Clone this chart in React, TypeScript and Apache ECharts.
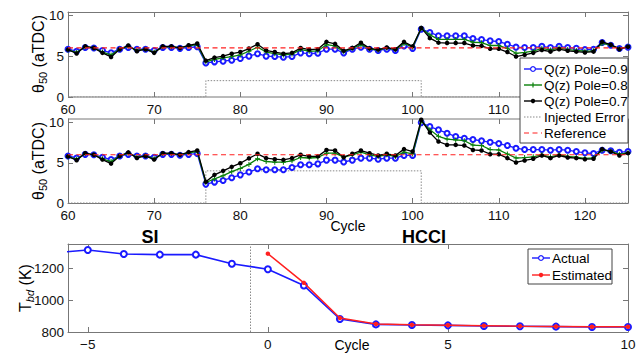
import React, { useEffect, useRef } from 'react';
import * as echarts from 'echarts';

// ---------- data ----------
const CYCLES = [60, 61, 62, 63, 64, 65, 66, 67, 68, 69, 70, 71, 72, 73, 74, 75, 76, 77, 78, 79, 80, 81, 82, 83, 84, 85, 86, 87, 88, 89, 90, 91, 92, 93, 94, 95, 96, 97, 98, 99, 100, 101, 102, 103, 104, 105, 106, 107, 108, 109, 110, 111, 112, 113, 114, 115, 116, 117, 118, 119, 120, 121, 122, 123, 124, 125];

// top panel (injected error = 2)
const TOP_POLE09 = [5.85, 5.6, 6.05, 6.0, 5.7, 5.4, 5.85, 6.05, 5.85, 5.85, 5.7, 6.05, 6.05, 5.95, 6.05, 6.15,
  4.17, 4.3, 4.38, 4.5, 4.7, 5.0,
  5.3, 5.0, 4.95, 4.87, 4.95, 5.4, 5.3, 5.35, 5.85, 5.85, 5.4, 5.85, 6.1, 5.85, 5.7, 5.85, 5.7, 6.25, 5.95,
  8.3, 7.9, 7.48, 7.48, 7.48, 7.48, 7.15, 7.03, 6.87, 6.79, 6.46, 6.1, 6.05, 6.05, 6.2, 6.05, 6.2, 6.05, 5.95, 5.8, 5.85, 6.66, 6.34, 5.93, 6.1];
const TOP_POLE08 = [5.75, 5.45, 6.15, 6.0, 5.5, 5.15, 5.85, 6.2, 5.7, 5.85, 5.5, 6.15, 6.15, 6.0, 6.25, 6.4,
  4.3, 4.6, 4.8, 4.95, 5.15, 5.6,
  6.1, 5.5, 5.3, 5.15, 5.25, 5.8, 5.6, 5.65, 6.4, 6.25, 5.55, 5.95, 6.4, 5.9, 5.75, 6.0, 5.8, 6.55, 6.1,
  8.4, 7.6, 7.05, 7.05, 7.05, 7.05, 6.7, 6.65, 6.3, 6.3, 5.95, 5.35, 5.45, 5.6, 5.95, 5.75, 6.0, 5.8, 5.7, 5.6, 5.65, 6.55, 6.35, 5.9, 6.15];
const TOP_POLE07 = [5.8, 5.32, 6.2, 6.0, 5.4, 4.9, 5.85, 6.3, 5.6, 5.85, 5.4, 6.2, 6.2, 6.0, 6.33, 6.54,
  4.45, 4.82, 5.0, 5.3, 5.5, 5.93,
  6.45, 5.7, 5.5, 5.3, 5.4, 6.0, 5.8, 5.85, 6.75, 6.5, 5.65, 6.0, 6.65, 5.95, 5.8, 6.05, 5.85, 6.75, 6.2,
  8.45, 7.2, 6.65, 6.6, 6.6, 6.6, 6.3, 6.25, 5.9, 5.9, 5.5, 4.95, 5.15, 5.4, 5.75, 5.55, 5.85, 5.65, 5.55, 5.45, 5.55, 6.75, 6.4, 5.85, 6.15];

// middle panel (injected error = 4)
const MID_POLE09 = [5.85, 5.6, 6.05, 6.0, 5.7, 5.4, 5.85, 6.05, 5.85, 5.85, 5.7, 6.05, 6.05, 5.95, 6.05, 6.15,
  2.35, 2.6, 2.8, 3.15, 3.5, 3.85,
  4.26, 4.13, 4.13, 4.13, 4.42, 4.75, 4.75, 4.87, 5.33, 5.33, 5.1, 5.33, 5.58, 5.58, 5.45, 5.58, 5.58, 5.92, 5.92,
  10.0, 9.5, 9.1, 8.68, 8.27, 8.06, 7.9, 7.73, 7.56, 7.4, 7.15, 6.82, 6.65, 6.65, 6.65, 6.57, 6.65, 6.57, 6.4, 6.24, 6.16, 6.57, 6.49, 6.32, 6.4];
const MID_POLE08 = [5.75, 5.45, 6.15, 6.0, 5.5, 5.15, 5.85, 6.2, 5.7, 5.85, 5.5, 6.15, 6.15, 6.0, 6.25, 6.4,
  2.55, 3.0, 3.4, 3.9, 4.3, 4.8,
  5.5, 5.16, 5.08, 5.08, 5.25, 5.66, 5.6, 5.66, 6.2, 6.2, 5.7, 5.99, 6.33, 5.99, 5.79, 5.99, 5.79, 6.33, 6.1,
  10.2, 9.1, 8.3, 7.95, 7.85, 7.75, 7.2, 7.15, 6.65, 6.6, 6.1, 5.6, 5.65, 5.75, 6.0, 5.75, 6.0, 5.8, 5.7, 5.55, 5.6, 6.6, 6.45, 6.05, 6.25];
const MID_POLE07 = [5.8, 5.32, 6.2, 6.0, 5.4, 4.9, 5.85, 6.3, 5.6, 5.85, 5.4, 6.2, 6.2, 6.0, 6.33, 6.54,
  2.65, 3.5, 4.0, 4.5, 4.95, 5.55,
  6.12, 5.58, 5.45, 5.37, 5.58, 6.0, 5.8, 5.8, 6.6, 6.53, 5.7, 6.12, 6.53, 6.2, 5.91, 6.12, 5.91, 6.7, 6.4,
  10.35, 8.76, 7.65, 7.23, 7.23, 7.15, 6.6, 6.53, 6.07, 6.07, 5.58, 5.04, 5.29, 5.5, 5.91, 5.58, 5.91, 5.66, 5.58, 5.45, 5.5, 6.7, 6.4, 5.91, 6.2];

const REFERENCE = 6;
const ERROR_ON = 76;
const ERROR_OFF = 101;
const TOP_ERROR = 2;
const MID_ERROR = 4;

// bottom panel
const TBD_CYCLES = [-6, -5, -4, -3, -2, -1, 0, 1, 2, 3, 4, 5, 6, 7, 8, 9, 10];
const TBD_ACTUAL = [1298, 1317, 1292, 1288, 1288, 1230, 1196, 1093, 882, 848, 844, 842, 838, 836, 834, 832, 832];
const EST_CYCLES = [0, 1, 2, 3, 4, 5, 6, 7, 8, 9, 10];
const TBD_ESTIMATED = [1294, 1110, 888, 850, 845, 843, 840, 837, 835, 833, 833];
const MODE_SWITCH = -0.5;

const X_TICKS_TOP = [60, 70, 80, 90, 100, 110, 120];
const X_TICKS_UNDER_LEGEND = [60, 70, 80, 90, 100, 110]; // 120 is hidden under the legend
const Y_TICKS_TOP = [0, 5, 10];
const X_TICKS_BOT = [-5, 0, 5, 10];
const Y_TICKS_BOT = [800, 1000, 1200];

const LEGEND_TOP = ['Q(z) Pole=0.9', 'Q(z) Pole=0.8', 'Q(z) Pole=0.7', 'Injected Error', 'Reference'];
const LEGEND_BOT = ['Actual', 'Estimated'];

// ---------- styling / layout ----------
const FONT = 'Liberation Sans, Arial, Helvetica, sans-serif';
const AXC = '#777777';
const BLUE = '#1a1aff';
const GREEN = '#0a800a';
const BLACK = '#000000';
const RED = '#ff2020';
const GREY = '#8a8a8a';
const PLUS = 'path://M0,4H10V6H0Z M4,0H6V10H4Z';

const GRID_LEFT = 68;
const GRID_RIGHT = 11;
const G0 = { top: 12, height: 85 };
const G1 = { top: 119, height: 84 };
const G2 = { top: 244, height: 88 };
const LEG1 = { x: 520, y: 58, w: 108, h: 85 };
const LEG2 = { x: 528, y: 249, w: 84, h: 35 };

const pairs = (xs: number[], ys: number[]) => xs.map((x, i) => [x, ys[i]]);
const fmt = (v: number) => (v < 0 ? '\u2212' + Math.abs(v) : String(v));

function xAxis(gridIndex: number, min: number, max: number, ticks: number[], labelVals: number[], pos: 'bottom' | 'top', labels: boolean, line = true) {
  return {
    type: 'value', gridIndex, min, max, position: pos,
    axisLine: { show: line, onZero: false, lineStyle: { color: AXC, width: 1 } },
    axisTick: { show: true, inside: true, length: 5, customValues: ticks, lineStyle: { color: AXC } },
    axisLabel: { show: labels, customValues: labelVals, color: '#111', fontSize: 13.5, fontFamily: FONT, margin: 5, formatter: fmt },
    splitLine: { show: false },
  };
}
function yAxis(gridIndex: number, min: number, max: number, ticks: number[], pos: 'left' | 'right', labels: boolean) {
  return {
    type: 'value', gridIndex, min, max, position: pos,
    axisLine: { show: true, onZero: false, lineStyle: { color: AXC, width: 1 } },
    axisTick: { show: true, inside: true, length: 5, customValues: ticks, lineStyle: { color: AXC } },
    axisLabel: { show: labels, customValues: ticks, color: '#111', fontSize: 13.5, fontFamily: FONT, margin: 4, formatter: fmt },
    splitLine: { show: false },
  };
}

function panelSeries(axis: number, p09: number[], p08: number[], p07: number[], err: number) {
  const first = CYCLES[0];
  const last = CYCLES[CYCLES.length - 1];
  const errPts = [[first, 0], [ERROR_ON, 0], [ERROR_ON, err], [ERROR_OFF, err], [ERROR_OFF, 0], [last, 0]];
  return [
    {
      name: LEGEND_TOP[3], type: 'line', xAxisIndex: axis, yAxisIndex: axis, data: errPts,
      symbol: 'none', lineStyle: { color: GREY, width: 1, type: [1.5, 1.5] }, z: 2,
    },
    {
      name: LEGEND_TOP[0], type: 'line', xAxisIndex: axis, yAxisIndex: axis, data: pairs(CYCLES, p09),
      symbol: 'emptyCircle', symbolSize: 5, lineStyle: { color: BLUE, width: 1.3 },
      itemStyle: { color: BLUE, borderColor: BLUE, borderWidth: 1.2 }, z: 3,
    },
    {
      name: LEGEND_TOP[1], type: 'line', xAxisIndex: axis, yAxisIndex: axis, data: pairs(CYCLES, p08),
      symbol: PLUS, symbolSize: 5, lineStyle: { color: GREEN, width: 1.3 }, itemStyle: { color: GREEN }, z: 4,
    },
    {
      name: LEGEND_TOP[2], type: 'line', xAxisIndex: axis, yAxisIndex: axis, data: pairs(CYCLES, p07),
      symbol: 'circle', symbolSize: 4.5, lineStyle: { color: BLACK, width: 1.3 }, itemStyle: { color: BLACK }, z: 5,
    },
    {
      name: LEGEND_TOP[4], type: 'line', xAxisIndex: axis, yAxisIndex: axis,
      data: [[first, REFERENCE], [last, REFERENCE]],
      symbol: 'none', lineStyle: { color: RED, width: 1.2, type: [5, 3.5] }, z: 6,
    },
  ];
}

// legend drawn as graphic elements
type Entry = { name: string; color: string; dash?: number[]; mark?: 'open' | 'dot' | 'plus' };
function legendBox(b: { x: number; y: number; w: number; h: number }, rowY: number[], entries: Entry[]) {
  const { x, y, w, h } = b;
  const Z = 60;
  const children: any[] = [
    { type: 'rect', z: Z, shape: { x, y, width: w, height: h }, style: { fill: '#ffffff', stroke: '#444', lineWidth: 1 } },
  ];
  entries.forEach((e, i) => {
    const cy = rowY[i];
    const x1 = x + 4, x2 = x + 22, cx = (x1 + x2) / 2;
    children.push({
      type: 'line', z: Z + 1, shape: { x1, y1: cy, x2, y2: cy },
      style: { stroke: e.color, lineWidth: e.dash ? 1.2 : 1.4, lineDash: e.dash || null },
    });
    if (e.mark === 'open') children.push({ type: 'circle', z: Z + 2, shape: { cx, cy, r: 2.4 }, style: { fill: '#fff', stroke: e.color, lineWidth: 1.2 } });
    if (e.mark === 'dot') children.push({ type: 'circle', z: Z + 2, shape: { cx, cy, r: 2.2 }, style: { fill: e.color } });
    if (e.mark === 'plus') children.push({ type: 'line', z: Z + 2, shape: { x1: cx, y1: cy - 2.5, x2: cx, y2: cy + 2.5 }, style: { stroke: e.color, lineWidth: 1.2 } });
    children.push({
      type: 'text', z: Z + 2, x: x2 + 2, y: cy,
      style: { text: e.name, fill: '#000', font: `13.5px ${FONT}`, align: 'left', verticalAlign: 'middle' },
    });
  });
  return { type: 'group', z: Z, children };
}

function buildOption() {
  const grids = [
    { left: GRID_LEFT, right: GRID_RIGHT, ...G0 },
    { left: GRID_LEFT, right: GRID_RIGHT, ...G1 },
    { left: GRID_LEFT, right: GRID_RIGHT, ...G2 },
  ];
  const label = (x: number, y: number, text: string, extra: any = {}) => ({
    type: 'text', x, y, z: 100,
    style: { text, fill: '#000', font: `14px ${FONT}`, align: 'center', verticalAlign: 'middle', ...extra },
  });
  const yTitle = (x: number, y: number, main: string, sub: string, rest: string, italicSub = false) => ({
    type: 'text', x, y, rotation: Math.PI / 2, z: 100,
    style: {
      text: `{a|${main}}{b|${sub}}{a|${rest}}`,
      align: 'center', verticalAlign: 'middle',
      rich: {
        a: { fontSize: 16, fontFamily: FONT, fill: '#000', lineHeight: 22, verticalAlign: 'middle' },
        b: { fontSize: 11, fontFamily: FONT, fill: '#000', lineHeight: 22, verticalAlign: 'middle', padding: [9, 0, 0, 0], fontStyle: italicSub ? 'italic' : 'normal' },
      },
    },
  });
  // axis lines that run under the legend box are drawn only up to the box
  const frameLine = (yy: number) => ({
    type: 'line', z: 1, shape: { x1: GRID_LEFT, y1: yy, x2: LEG1.x, y2: yy },
    style: { stroke: AXC, lineWidth: 1 },
  });

  return {
    animation: false,
    backgroundColor: '#fff',
    grid: grids,
    xAxis: [
      xAxis(0, 60, 125, X_TICKS_UNDER_LEGEND, X_TICKS_UNDER_LEGEND, 'bottom', true, false),
      xAxis(0, 60, 125, X_TICKS_TOP, X_TICKS_TOP, 'top', false),
      xAxis(1, 60, 125, X_TICKS_TOP, X_TICKS_TOP, 'bottom', true),
      xAxis(1, 60, 125, X_TICKS_UNDER_LEGEND, X_TICKS_UNDER_LEGEND, 'top', false, false),
      xAxis(2, -5.55, 10, X_TICKS_BOT, X_TICKS_BOT, 'bottom', true),
      xAxis(2, -5.55, 10, X_TICKS_BOT, X_TICKS_BOT, 'top', false),
    ],
    yAxis: [
      yAxis(0, 0, 10.4, Y_TICKS_TOP, 'left', true),
      yAxis(0, 0, 10.4, Y_TICKS_TOP, 'right', false),
      yAxis(1, 0, 10.45, Y_TICKS_TOP, 'left', true),
      yAxis(1, 0, 10.45, Y_TICKS_TOP, 'right', false),
      yAxis(2, 800, 1355, Y_TICKS_BOT, 'left', true),
      yAxis(2, 800, 1355, Y_TICKS_BOT, 'right', false),
    ],
    series: [
      ...panelSeries(0, TOP_POLE09, TOP_POLE08, TOP_POLE07, TOP_ERROR),
      ...panelSeries(2, MID_POLE09, MID_POLE08, MID_POLE07, MID_ERROR),
      {
        name: LEGEND_BOT[0], type: 'line', xAxisIndex: 4, yAxisIndex: 4, data: pairs(TBD_CYCLES, TBD_ACTUAL),
        symbol: 'emptyCircle', symbolSize: 6, lineStyle: { color: BLUE, width: 1.6 },
        itemStyle: { color: BLUE, borderColor: BLUE, borderWidth: 1.6 }, z: 3,
        markLine: {
          silent: true, symbol: 'none', label: { show: false },
          lineStyle: { color: GREY, width: 1, type: [1.5, 1.5] },
          data: [{ xAxis: MODE_SWITCH }],
        },
      },
      {
        name: LEGEND_BOT[1], type: 'line', xAxisIndex: 4, yAxisIndex: 4, data: pairs(EST_CYCLES, TBD_ESTIMATED),
        symbol: 'circle', symbolSize: 4.5, lineStyle: { color: RED, width: 1.5 }, itemStyle: { color: RED }, z: 4,
      },
    ],
    graphic: {
      elements: [
        frameLine(G0.top + G0.height),
        frameLine(G1.top),
        yTitle(38, 54, 'θ', '50', ' (aTDC)'),
        yTitle(38, 161, 'θ', '50', ' (aTDC)'),
        yTitle(25, 288, 'T', 'bd', ' (K)', true),
        label(348, 226, 'Cycle'),
        label(352, 345, 'Cycle'),
        label(150, 237, 'SI', { font: `bold 18px ${FONT}` }),
        label(424, 237, 'HCCI', { font: `bold 18px ${FONT}` }),
        legendBox(LEG1, [69, 85, 101, 117, 133], [
          { name: LEGEND_TOP[0], color: BLUE, mark: 'open' },
          { name: LEGEND_TOP[1], color: GREEN, mark: 'plus' },
          { name: LEGEND_TOP[2], color: BLACK, mark: 'dot' },
          { name: LEGEND_TOP[3], color: GREY, dash: [1.5, 1.5] },
          { name: LEGEND_TOP[4], color: RED, dash: [5, 3.5] },
        ]),
        legendBox(LEG2, [258, 275], [
          { name: LEGEND_BOT[0], color: BLUE, mark: 'open' },
          { name: LEGEND_BOT[1], color: RED, mark: 'dot' },
        ]),
      ],
    },
  };
}

export default function App() {
  const ref = useRef<HTMLDivElement>(null);
  useEffect(() => {
    if (!ref.current) return;
    const chart = echarts.init(ref.current, null, { renderer: 'svg' });
    chart.setOption(buildOption() as any);
    return () => chart.dispose();
  }, []);
  return <div ref={ref} style={{ position: 'absolute', left: 0, top: 0, width: 639, height: 353 }} />;
}
